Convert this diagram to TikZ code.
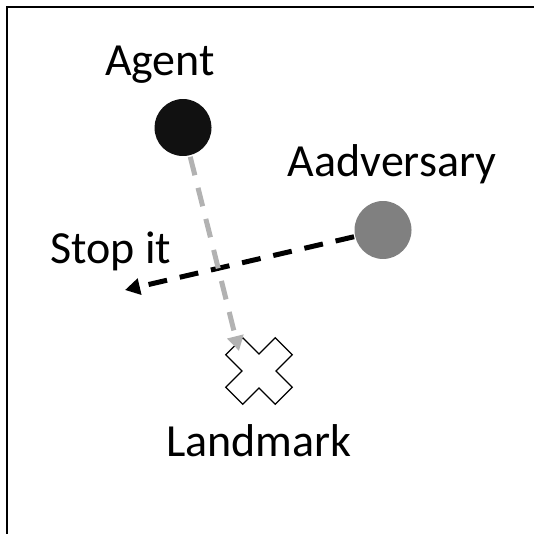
\documentclass[tikz,border=0pt]{standalone}
\usepackage{fontspec}
\setmainfont{Carlito}
\usetikzlibrary{arrows.meta}
\tikzset{
  lbl/.style={inner sep=0pt, anchor=base, font=\fontsize{46}{55}\selectfont},
  dot/.style={circle, minimum size=59pt, inner sep=0pt},
  disk/.style={line width=57pt, line cap=round},
  conn/.style={line width=5pt, dash pattern=on 19pt off 13pt, -{Triangle[length=15pt,width=16pt]}},
  frame/.style={line width=2pt, draw=black}
}
\begin{document}
\begin{tikzpicture}[x=1pt,y=-1pt]
\useasboundingbox (0,0) rectangle (534,534);
\draw[frame] (7,534) -- (7,7) -- (534,7);
\node[dot] (agent) at (183,128) {};
\node[dot] (adv) at (383,230) {};
\draw[disk, color={rgb,255:red,17;green,17;blue,17}] (agent.center) -- ++(0.01,0);
\draw[disk, color={rgb,255:red,128;green,128;blue,128}] (adv.center) -- ++(0.01,0);
\node[lbl] (agentlbl) at (160,76) {Agent};
\node[lbl] (advlbl) at (392,177) {Aadversary};
\node[lbl] (stoplbl) at (111,263) {Stop it};
\node[lbl] (landlbl) at (259,456) {Landmark};
\coordinate (landmark) at (259,371);
\begin{scope}[shift={(259,371)}, rotate=45]
\draw[line width=1.3pt, fill=white] (12,35) -- (-12,35) -- (-12,12) -- (-35,12) -- (-35,-12) -- (-12,-12) -- (-12,-35) -- (12,-35) -- (12,-12) -- (35,-12) -- (35,12) -- (12,12) -- cycle;
\end{scope}
\coordinate (btip) at (125,290);
\coordinate (gtip) at (239,351);
\draw[conn, black] (adv) -- (btip);
\draw[conn, color={rgb,255:red,178;green,178;blue,178}] (agent) -- (gtip);
\end{tikzpicture}
\end{document}
